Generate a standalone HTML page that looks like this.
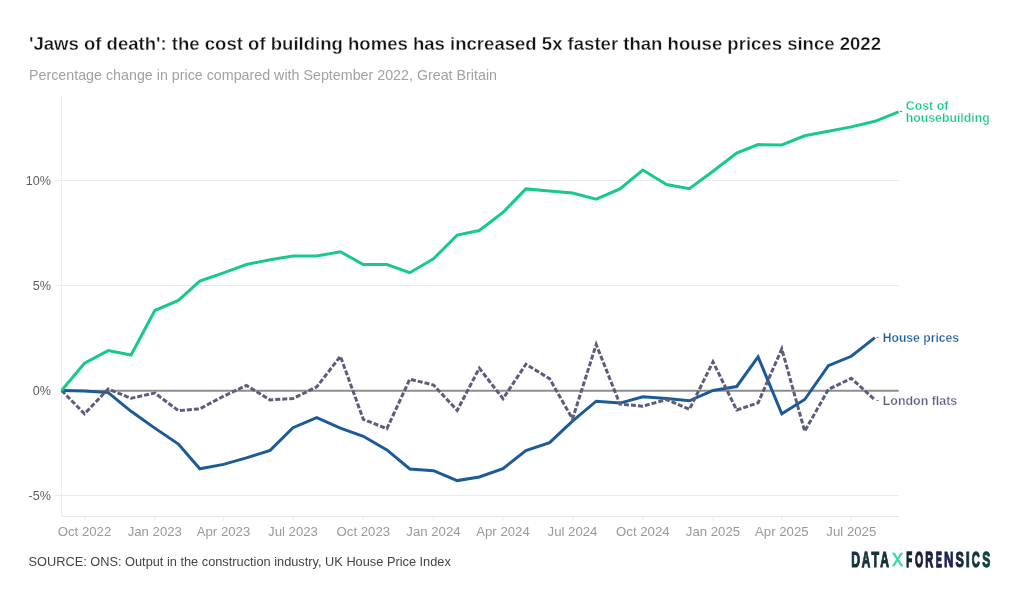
<!DOCTYPE html>
<html><head><meta charset="utf-8">
<style>
html,body{margin:0;padding:0;background:#fff;}
body{width:1020px;height:601px;overflow:hidden;}
svg{display:block;will-change:transform;font-family:"Liberation Sans",sans-serif;}
.xl{font-size:13.2px;fill:#999;}
.yl{font-size:12.6px;fill:#5e5e5e;}
</style></head><body>
<svg width="1020" height="601" viewBox="0 0 1020 601">
<rect width="1020" height="601" fill="#fff"/>
<text x="29" y="49.9" font-size="17.9" font-weight="700" fill="#141414" stroke="#fff" stroke-width="0.3" textLength="852" lengthAdjust="spacingAndGlyphs">'Jaws of death': the cost of building homes has increased 5x faster than house prices since 2022</text>
<text x="29" y="79.5" font-size="14.2" fill="#a2a2a2" textLength="468" lengthAdjust="spacingAndGlyphs">Percentage change in price compared with September 2022, Great Britain</text>
<line x1="55" y1="180.5" x2="898.7" y2="180.5" stroke="#ebebeb" stroke-width="1"/>
<line x1="55" y1="285.5" x2="898.7" y2="285.5" stroke="#ebebeb" stroke-width="1"/>
<line x1="55" y1="495.5" x2="898.7" y2="495.5" stroke="#ebebeb" stroke-width="1"/>
<line x1="61.6" y1="96" x2="61.6" y2="516.5" stroke="#ebebeb" stroke-width="1"/>
<line x1="61.1" y1="516.5" x2="898.7" y2="516.5" stroke="#e6e6e6" stroke-width="1"/>
<line x1="84.5" y1="517" x2="84.5" y2="520.5" stroke="#ececec" stroke-width="1"/><text x="84.5" y="535.8" text-anchor="middle" class="xl">Oct 2022</text>
<line x1="154.8" y1="517" x2="154.8" y2="520.5" stroke="#ececec" stroke-width="1"/><text x="154.8" y="535.8" text-anchor="middle" class="xl">Jan 2023</text>
<line x1="223.5" y1="517" x2="223.5" y2="520.5" stroke="#ececec" stroke-width="1"/><text x="223.5" y="535.8" text-anchor="middle" class="xl">Apr 2023</text>
<line x1="293.0" y1="517" x2="293.0" y2="520.5" stroke="#ececec" stroke-width="1"/><text x="293.0" y="535.8" text-anchor="middle" class="xl">Jul 2023</text>
<line x1="363.3" y1="517" x2="363.3" y2="520.5" stroke="#ececec" stroke-width="1"/><text x="363.3" y="535.8" text-anchor="middle" class="xl">Oct 2023</text>
<line x1="433.5" y1="517" x2="433.5" y2="520.5" stroke="#ececec" stroke-width="1"/><text x="433.5" y="535.8" text-anchor="middle" class="xl">Jan 2024</text>
<line x1="503.0" y1="517" x2="503.0" y2="520.5" stroke="#ececec" stroke-width="1"/><text x="503.0" y="535.8" text-anchor="middle" class="xl">Apr 2024</text>
<line x1="572.5" y1="517" x2="572.5" y2="520.5" stroke="#ececec" stroke-width="1"/><text x="572.5" y="535.8" text-anchor="middle" class="xl">Jul 2024</text>
<line x1="642.8" y1="517" x2="642.8" y2="520.5" stroke="#ececec" stroke-width="1"/><text x="642.8" y="535.8" text-anchor="middle" class="xl">Oct 2024</text>
<line x1="713.0" y1="517" x2="713.0" y2="520.5" stroke="#ececec" stroke-width="1"/><text x="713.0" y="535.8" text-anchor="middle" class="xl">Jan 2025</text>
<line x1="781.8" y1="517" x2="781.8" y2="520.5" stroke="#ececec" stroke-width="1"/><text x="781.8" y="535.8" text-anchor="middle" class="xl">Apr 2025</text>
<line x1="851.3" y1="517" x2="851.3" y2="520.5" stroke="#ececec" stroke-width="1"/><text x="851.3" y="535.8" text-anchor="middle" class="xl">Jul 2025</text>
<text x="51" y="184.9" text-anchor="end" class="yl">10%</text>
<text x="51" y="289.9" text-anchor="end" class="yl">5%</text>
<text x="51" y="394.9" text-anchor="end" class="yl">0%</text>
<text x="51" y="499.9" text-anchor="end" class="yl">-5%</text>
<line x1="61.6" y1="390.7" x2="898.7" y2="390.7" stroke="#8e8e8e" stroke-width="2"/>
<polyline points="61.6,390.5 84.5,391.1 108.2,392.6 131.1,411.3 154.8,428.1 178.4,444.1 199.8,468.8 223.5,464.4 246.4,457.9 270.1,450.4 293.0,427.7 316.7,417.6 340.4,428.1 363.3,436.3 386.9,449.9 409.8,469.0 433.5,470.7 457.2,480.6 479.3,477.0 503.0,468.6 525.9,450.6 549.6,442.6 572.5,421.2 596.2,401.2 619.9,403.1 642.8,396.8 666.5,398.5 689.4,400.8 713.0,390.5 736.7,386.5 758.1,356.9 781.8,413.8 804.7,399.5 828.4,365.7 851.3,356.3 874.9,337.6" fill="none" stroke="#1d5b98" stroke-width="3"/>
<polyline points="61.6,390.5 84.5,413.8 108.2,389.0 131.1,398.3 154.8,393.0 178.4,410.7 199.8,408.8 223.5,396.2 246.4,385.5 270.1,399.9 293.0,398.5 316.7,386.9 340.4,356.3 363.3,419.3 386.9,428.7 409.8,379.2 433.5,385.0 457.2,410.4 479.3,368.2 503.0,398.7 525.9,364.2 549.6,378.7 572.5,418.9 596.2,344.5 619.9,404.1 642.8,406.2 666.5,399.5 689.4,409.4 713.0,361.9 736.7,410.0 758.1,402.9 781.8,348.9 804.7,431.2 828.4,389.4 851.3,378.3 874.9,399.9" fill="none" stroke="#5c5d7c" stroke-width="3" stroke-dasharray="5 2"/>
<polyline points="61.6,390.5 84.5,363.2 108.2,350.6 131.1,355.0 154.8,310.5 178.4,300.4 199.8,281.1 223.5,272.9 246.4,264.5 270.1,259.7 293.0,255.9 316.7,255.9 340.4,251.7 363.3,264.5 386.9,264.5 409.8,272.7 433.5,258.8 457.2,235.1 479.3,230.5 503.0,212.4 525.9,188.9 549.6,191.0 572.5,193.1 596.2,199.2 619.9,188.9 642.8,170.0 666.5,184.5 689.4,188.7 713.0,171.3 736.7,153.0 758.1,144.6 781.8,145.0 804.7,135.8 828.4,131.2 851.3,126.9 874.9,121.3 898.6,111.8" fill="none" stroke="#17c98c" stroke-width="3"/>
<line x1="899.6" y1="111.4" x2="902.2" y2="111.4" stroke="#6f7a76" stroke-width="1"/>
<line x1="876.3" y1="337.4" x2="878.8" y2="337.4" stroke="#7f8fa3" stroke-width="1"/>
<line x1="876.3" y1="400.4" x2="878.8" y2="400.4" stroke="#7a7b8c" stroke-width="1"/>
<text x="905.7" y="109.6" font-size="12.4" font-weight="700" fill="#18c68c" stroke="#fff" stroke-width="0.25">Cost of</text>
<text x="905.7" y="121.8" font-size="12.4" font-weight="700" fill="#18c68c" stroke="#fff" stroke-width="0.25" textLength="84" lengthAdjust="spacingAndGlyphs">housebuilding</text>
<text x="882.7" y="342" font-size="12.3" font-weight="700" fill="#1d5b98" stroke="#fff" stroke-width="0.25" textLength="76.4" lengthAdjust="spacingAndGlyphs">House prices</text>
<text x="882.7" y="404.9" font-size="12.3" font-weight="700" fill="#5c5e80" stroke="#fff" stroke-width="0.25" textLength="74.6" lengthAdjust="spacingAndGlyphs">London flats</text>
<text x="28.5" y="565.9" font-size="12.6" fill="#444" textLength="422.3" lengthAdjust="spacingAndGlyphs">SOURCE: ONS: Output in the construction industry, UK House Price Index</text>
<defs>
<linearGradient id="lg" x1="851" y1="0" x2="991" y2="0" gradientUnits="userSpaceOnUse">
<stop offset="0" stop-color="#1b3a3e"/><stop offset="0.45" stop-color="#1a2245"/><stop offset="0.75" stop-color="#1c2f55"/><stop offset="1" stop-color="#1d5a5a"/>
</linearGradient>
</defs>
<text transform="translate(851.13,566.5) scale(0.566,1)" font-size="21.6" font-weight="700" fill="#15303a" stroke="#15303a" stroke-width="1.24" style="paint-order:stroke">D</text>
<text transform="translate(861.86,566.5) scale(0.545,1)" font-size="21.6" font-weight="700" fill="#183540" stroke="#183540" stroke-width="1.28" style="paint-order:stroke">A</text>
<text transform="translate(871.41,566.5) scale(0.574,1)" font-size="21.6" font-weight="700" fill="#173238" stroke="#173238" stroke-width="1.22" style="paint-order:stroke">T</text>
<text transform="translate(880.15,566.5) scale(0.559,1)" font-size="21.6" font-weight="700" fill="#16303a" stroke="#16303a" stroke-width="1.25" style="paint-order:stroke">A</text>
<text transform="translate(906.20,566.5) scale(0.447,1)" font-size="21.6" font-weight="700" fill="#10292f" stroke="#10292f" stroke-width="1.57" style="paint-order:stroke">F</text>
<text transform="translate(914.92,566.5) scale(0.486,1)" font-size="21.6" font-weight="700" fill="#1a1e3c" stroke="#1a1e3c" stroke-width="1.44" style="paint-order:stroke">O</text>
<text transform="translate(925.21,566.5) scale(0.511,1)" font-size="21.6" font-weight="700" fill="#1c1f45" stroke="#1c1f45" stroke-width="1.37" style="paint-order:stroke">R</text>
<text transform="translate(936.07,566.5) scale(0.404,1)" font-size="21.6" font-weight="700" fill="#20234d" stroke="#20234d" stroke-width="1.73" style="paint-order:stroke">E</text>
<text transform="translate(944.07,566.5) scale(0.606,1)" font-size="21.6" font-weight="700" fill="#1f2352" stroke="#1f2352" stroke-width="1.15" style="paint-order:stroke">N</text>
<text transform="translate(955.49,566.5) scale(0.580,1)" font-size="21.6" font-weight="700" fill="#18283f" stroke="#18283f" stroke-width="1.21" style="paint-order:stroke">S</text>
<text transform="translate(965.87,566.5) scale(0.675,1)" font-size="21.6" font-weight="700" fill="#153238" stroke="#153238" stroke-width="1.04" style="paint-order:stroke">I</text>
<text transform="translate(971.69,566.5) scale(0.517,1)" font-size="21.6" font-weight="700" fill="#143838" stroke="#143838" stroke-width="1.35" style="paint-order:stroke">C</text>
<text transform="translate(982.30,566.5) scale(0.556,1)" font-size="21.6" font-weight="700" fill="#154440" stroke="#154440" stroke-width="1.26" style="paint-order:stroke">S</text>
<text transform="translate(892.10,565.6) scale(0.973,1)" font-size="23.0" font-weight="400" fill="#3dd9ae" stroke="#3dd9ae" stroke-width="0.5">x</text>
</svg>
</body></html>
